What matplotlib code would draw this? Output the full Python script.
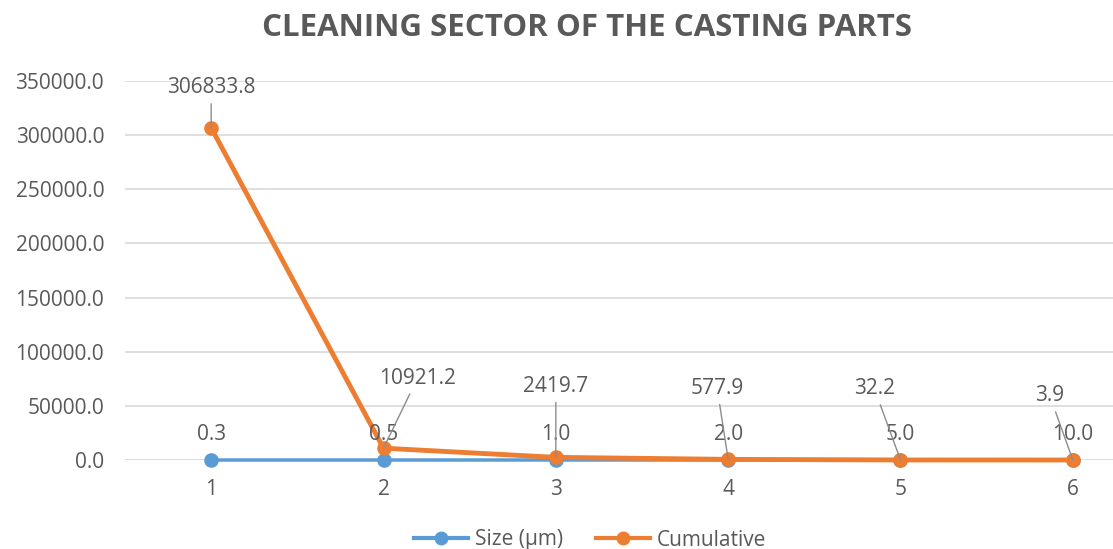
import matplotlib
matplotlib.use('Agg')
from matplotlib import pyplot as plt
from matplotlib.lines import Line2D

categories = [1, 2, 3, 4, 5, 6]
size_um = [0.3, 0.5, 1.0, 2.0, 5.0, 10.0]
cumulative = [306833.8, 10921.2, 2419.7, 577.9, 32.2, 3.9]
size_labels = ['0.3', '0.5', '1.0', '2.0', '5.0', '10.0']
cum_labels = ['306833.8', '10921.2', '2419.7', '577.9', '32.2', '3.9']
# label offsets in pixels (dx, dy) for the cumulative series
cum_offsets = [(0, 40), (34, 70), (0, 71), (-11, 71), (-26, 71), (-23, 64)]

BLUE = '#5B9BD5'
ORANGE = '#ED7D31'
GRAY = '#595959'

plt.rcParams['font.family'] = ['Open Sans', 'DejaVu Sans']

fig = plt.figure(figsize=(11.13, 5.49), dpi=100)
ax = fig.add_axes([125 / 1113, 89 / 549, 1034 / 1113, 379 / 549])

ax.plot(categories, size_um, color=BLUE, lw=2.5, marker='o', ms=9.5,
        label='Size (µm)', zorder=3, clip_on=False)
ax.plot(categories, cumulative, color=ORANGE, lw=3.5, marker='o', ms=9.5,
        label='Cumulative', zorder=4, clip_on=False)

for x, y, t in zip(categories, size_um, size_labels):
    ax.annotate(t, (x, y), xytext=(0, 25), textcoords='offset pixels',
                ha='center', va='center', fontsize=15, color=GRAY, zorder=5)

for x, y, t, (dx, dy) in zip(categories, cumulative, cum_labels, cum_offsets):
    ax.annotate(t, (x, y), xytext=(dx, dy), textcoords='offset pixels',
                ha='center', va='center', fontsize=15, color=GRAY, zorder=5,
                arrowprops=dict(arrowstyle='-', color='#8c8c8c', lw=1,
                                shrinkA=2, shrinkB=0))

ax.set_xlim(0.5, 6.5)
ax.set_ylim(0, 350000)
ax.set_yticks(range(0, 350001, 50000))
ax.set_yticklabels([f'{v:.1f}' for v in range(0, 350001, 50000)])
ax.set_xticks(categories)
ax.tick_params(axis='both', length=0, labelsize=15, labelcolor=GRAY)
ax.tick_params(axis='x', pad=14)
ax.tick_params(axis='y', pad=15)
ax.grid(axis='y', color='#D9D9D9', lw=1.2)
ax.set_axisbelow(True)
for s in ax.spines.values():
    s.set_visible(False)

fig.text(587 / 1113, 1 - 28 / 549, 'CLEANING SECTOR OF THE CASTING PARTS',
         ha='center', va='center', fontsize=22.5, fontweight='bold', color=GRAY)

handles = [Line2D([], [], color=BLUE, lw=3, marker='o', ms=9),
           Line2D([], [], color=ORANGE, lw=3, marker='o', ms=9)]
fig.legend(handles, ['Size (µm)', 'Cumulative'], loc='center', ncol=2,
           bbox_to_anchor=(590 / 1113, 1 - 540 / 549), frameon=False,
           fontsize=15, labelcolor=GRAY, handlelength=2.6, columnspacing=1.6,
           handletextpad=0.3)

fig.savefig('out.png', dpi=100)
